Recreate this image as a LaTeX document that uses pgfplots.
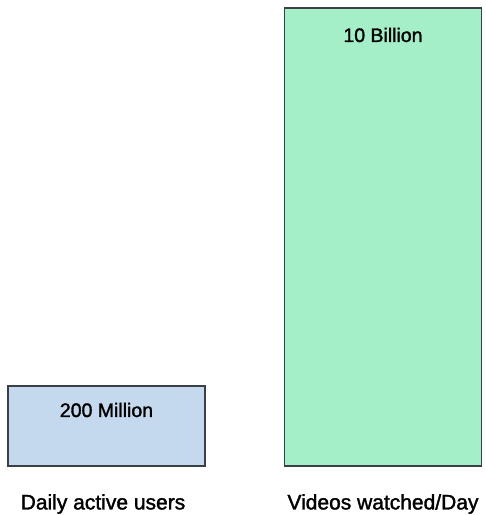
\documentclass[border=0pt]{standalone}
\usepackage{pgfplots}
\pgfplotsset{compat=1.18}
\usepackage{fontspec}
\setmainfont{Liberation Sans}
\newfontfamily\hand{Liberation Sans}[FakeBold=1.6]
\definecolor{barblue}{HTML}{C4D9EE}
\definecolor{bargreen}{HTML}{A4EEC8}
\definecolor{edge}{HTML}{3A4045}
\begin{document}
\begin{tikzpicture}
\begin{axis}[
  scale only axis,
  width=486pt, height=515pt,
  xmin=0, xmax=486,
  ymin=-49, ymax=466,
  axis lines=none,
  ybar, bar width=197, bar shift=0pt,
  clip=false,
]
\path (rel axis cs:0,0) rectangle (rel axis cs:1,1);
\addplot[fill=barblue, draw=edge, line width=1.3pt] coordinates {(106.5,80)};
\addplot[fill=bargreen, draw=edge, line width=1.3pt] coordinates {(383,458)};
\node[font=\hand\fontsize{19.5}{22}\selectfont] at (axis cs:106.5,56) {200 Million};
\node[font=\hand\fontsize{19.5}{22}\selectfont] at (axis cs:383,431) {10 Billion};
\node[font=\hand\fontsize{21}{24}\selectfont, inner sep=1pt] at (axis cs:103,-38) {Daily active users};
\node[font=\hand\fontsize{21}{24}\selectfont, inner sep=1pt] at (axis cs:383,-38) {Videos watched/Day};
\end{axis}
\end{tikzpicture}
\end{document}
